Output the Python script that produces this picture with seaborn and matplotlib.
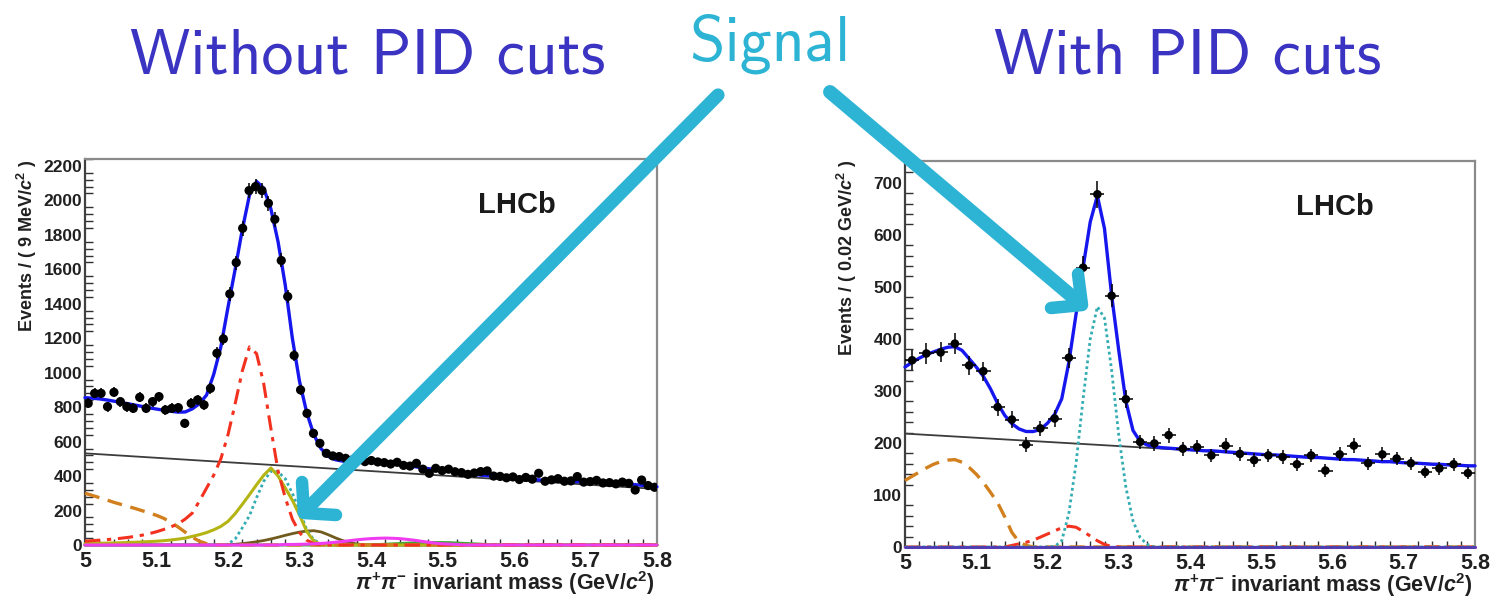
import numpy as np
import pandas as pd
import matplotlib
matplotlib.use("Agg")
import matplotlib.pyplot as plt
from matplotlib.ticker import MultipleLocator, FuncFormatter
import seaborn as sns

# ----------------------------------------------------------------------
# Binned data: pi+pi- invariant mass, 5.0 - 5.8 GeV/c^2
# ----------------------------------------------------------------------
# Without PID cuts: 9 MeV/c^2 bins
left_bin_width = 0.009
left_counts = [
    822, 880, 880, 803, 886, 832, 803, 793, 857, 793,
    832, 861, 784, 793, 797, 706, 822, 842, 813, 909,
    1113, 1196, 1457, 1639, 1838, 2057, 2080, 2057, 1983, 1890,
    1651, 1442, 1100, 900, 764, 648, 590, 532, 517, 513,
    503, 493, 493, 484, 490, 482, 478, 470, 480, 462,
    458, 474, 440, 416, 445, 432, 440, 425, 420, 410,
    418, 426, 430, 400, 398, 390, 395, 380, 392, 382,
    416, 370, 378, 385, 370, 372, 397, 365, 368, 375,
    360, 362, 355, 365, 358, 319, 377, 345, 335,
]

# With PID cuts: 20 MeV/c^2 bins
right_bin_width = 0.02
right_counts = [
    359, 372, 374, 391, 349, 338, 269, 245, 197, 228,
    247, 364, 537, 678, 483, 284, 202, 199, 215, 189,
    192, 176, 195, 179, 167, 176, 173, 159, 176, 147,
    178, 195, 161, 178, 170, 161, 144, 151, 159, 142,
]

# ----------------------------------------------------------------------
# Fit model curves, tabulated every 10 MeV/c^2 from their start mass
# ----------------------------------------------------------------------
curve_step = 0.01

# -- without PID cuts --
left_total = [
    855, 852, 848, 842, 835, 828, 820, 812, 804, 796,
    789, 782, 776, 771, 772, 790, 820, 870, 990, 1150,
    1380, 1600, 1830, 2030, 2110, 2070, 1950, 1760, 1510, 1200,
    950, 770, 640, 560, 515, 495, 487, 486, 487, 487,
    485, 480, 476, 471, 466, 461, 455, 449, 443, 438,
    434, 429, 423, 418, 412, 407, 403, 399, 395, 391,
    388, 385, 382, 379, 376, 374, 372, 370, 369, 368,
    367, 366, 364, 362, 360, 357, 354, 350, 346, 342,
    338,
]
left_comb_step = 0.1
left_comb = [532, 506, 480, 455, 429, 403, 377, 351, 325]
left_partreco_start = 5.00
left_partreco = [300, 288, 275, 262, 248, 236, 224, 212, 199, 186,
                 172, 155, 132, 105, 75, 45, 22, 8, 2, 0]
left_kpi_start = 5.00
left_kpi = [22, 25, 28, 31, 35, 39, 44, 50, 57, 66,
            77, 90, 105, 122, 150, 185, 255, 330, 405, 500,
            640, 820, 1010, 1150, 1110, 935, 675, 430, 275, 150,
            72, 28, 8, 2, 0]
left_kk_start = 5.00
left_kk = [8, 9, 10, 11, 12, 13, 15, 16, 18, 20,
           22, 25, 29, 34, 40, 50, 60, 72, 88, 108,
           137, 182, 236, 292, 350, 405, 447, 400, 332, 260,
           174, 80, 22, 5, 0]
left_signal_start = 5.20
left_signal = [5, 35, 100, 170, 275, 370, 428, 425, 385, 300, 200, 90, 30, 8, 0]
left_pik_start = 5.20
left_pik = [2, 4, 8, 13, 19, 26, 35, 45, 56, 66, 75, 81, 83, 76, 60,
            42, 26, 14, 6, 2, 0]
left_pk_start = 5.28
left_pk = [3, 3, 4, 5, 7, 9, 12, 16, 20, 25, 30, 34, 37, 39, 40,
           39, 37, 33, 28, 22, 16, 11, 7, 5, 3]
left_ppi_start = 5.40
left_ppi = [2, 3, 5, 7, 9, 11, 13, 14, 15, 15, 15, 14, 12, 10, 8, 6, 4, 2, 1, 0]

# -- with PID cuts --
right_total = [
    346, 355, 363, 370, 375, 380, 384, 385, 378, 362,
    346, 328, 304, 276, 253, 237, 227, 222, 222, 226,
    238, 255, 285, 355, 447, 538, 625, 675, 612, 484,
    378, 280, 224, 203, 196, 193, 191, 190, 189, 188,
    187, 186, 185, 185, 184, 183, 182, 181, 180, 179,
    178, 177, 177, 176, 175, 174, 173, 172, 172, 171,
    170, 169, 168, 168, 167, 166, 165, 164, 164, 163,
    162, 161, 161, 160, 159, 159, 158, 157, 157, 156,
    156,
]
right_comb_step = 0.1
right_comb = [218, 210, 202, 194, 186, 178, 170, 163, 156]
right_partreco_start = 5.00
right_partreco = [128, 136, 144, 152, 159, 164, 167, 168, 163, 153,
                  140, 124, 105, 85, 58, 28, 10, 3, 0]
right_kpi_start = 5.15
right_kpi = [3, 6, 9, 13, 19, 25, 31, 37, 40, 38, 30, 21, 12, 5, 1, 0]
right_signal_start = 5.21
right_signal = [1, 12, 65, 160, 285, 400, 462, 440, 340, 215, 115, 50, 18, 5, 0]
right_other_start = 5.00
right_other = [0]          # remaining components, no yield after PID

mass_lo, mass_hi = 5.0, 5.8
x_ticks_major, x_ticks_minor = 0.1, 0.02

# ----------------------------------------------------------------------
# Style
# ----------------------------------------------------------------------
sns.set_theme(style="white")
plt.rcParams["font.family"] = ["Liberation Sans", "DejaVu Sans"]
plt.rcParams["font.weight"] = "bold"
plt.rcParams["mathtext.fontset"] = "custom"
plt.rcParams["mathtext.rm"] = "Liberation Sans:bold"
plt.rcParams["mathtext.bf"] = "Liberation Sans:bold"
plt.rcParams["mathtext.sf"] = "Liberation Sans:bold"
plt.rcParams["mathtext.it"] = "Liberation Sans:bold:italic"

C_TOTAL = "#1616ee"
C_COMB = "#3c3c3c"
C_KPI = "#f2321e"
C_PART = "#d2801e"
C_SIG = "#34adb2"
C_KK = "#b4b414"
C_PIK = "#705a1e"
C_PK = "#f03cf0"
C_PPI = "#3caa32"
C_DATA = "black"
C_TITLE = "#3b34c2"
C_ARROW = "#2db4d4"

grid = np.round(mass_lo + curve_step * np.arange(int(round((mass_hi - mass_lo) / curve_step)) + 1), 2)


def component(start, values):
    """Place a tabulated component on the full mass grid (zero elsewhere)."""
    y = np.zeros(grid.size)
    i0 = int(round((start - mass_lo) / curve_step))
    y[i0:i0 + len(values)] = values
    return pd.DataFrame({"mass": grid, "events": y})


def line_frame(step, values):
    x = mass_lo + step * np.arange(len(values))
    return pd.DataFrame({"mass": x, "events": np.asarray(values, float)})


def bins_frame(width, counts):
    c = np.asarray(counts, float)
    centres = mass_lo + width * (np.arange(c.size) + 0.5)
    return pd.DataFrame({"mass": centres, "events": c, "err": np.sqrt(c)})


def draw(ax, df, color, lw, ls="-", z=3):
    sns.lineplot(data=df, x="mass", y="events", ax=ax, color=color,
                 linewidth=lw, linestyle=ls, estimator=None, sort=False,
                 zorder=z, clip_on=False)


DASHDOT = (0, (5, 2.2, 1.4, 2.2))
DASHED = (0, (4.5, 2.6))
DOTTED = (0, (1.0, 1.1))


def draw_points(ax, df, half_width, size):
    ax.errorbar(df["mass"], df["events"], yerr=df["err"], xerr=half_width,
                fmt="none", ecolor=C_DATA, elinewidth=1.1, capsize=0, zorder=6)
    sns.scatterplot(data=df, x="mass", y="events", ax=ax, color=C_DATA,
                    s=size, edgecolor="none", linewidth=0, zorder=7)


def style_axes(ax, ymax, ymajor, yminor):
    ax.set_xlim(mass_lo, mass_hi)
    ax.set_ylim(0, ymax)
    ax.xaxis.set_major_locator(MultipleLocator(x_ticks_major))
    ax.xaxis.set_minor_locator(MultipleLocator(x_ticks_minor))
    ax.yaxis.set_major_locator(MultipleLocator(ymajor))
    ax.yaxis.set_minor_locator(MultipleLocator(yminor))
    ax.xaxis.set_major_formatter(FuncFormatter(lambda v, p: f"{v:g}"))
    ax.yaxis.set_major_formatter(FuncFormatter(lambda v, p: f"{v:.0f}"))
    ax.tick_params(axis="y", which="major", direction="in", length=12,
                   width=1.1, labelsize=12.5, pad=2, color="#303030",
                   labelcolor="#202020")
    ax.tick_params(axis="y", which="minor", direction="in", length=6,
                   width=1.0, color="#303030", left=True)
    ax.tick_params(axis="x", which="major", direction="in", length=8,
                   width=1.1, labelsize=15.5, pad=4, color="#303030",
                   labelcolor="#202020")
    ax.tick_params(axis="x", which="minor", direction="in", length=4,
                   width=1.0, color="#303030", bottom=True)
    for side in ("top", "right"):
        ax.spines[side].set_color("#8a8a8a")
        ax.spines[side].set_linewidth(1.6)
    for side in ("left", "bottom"):
        ax.spines[side].set_color("#404040")
        ax.spines[side].set_linewidth(1.6)
    ax.set_xlabel("")
    ax.set_ylabel("")
    ax.text(0.997, -0.062, r"$\pi^{+}\pi^{-}$ invariant mass (GeV/$c^{2}$)",
            transform=ax.transAxes, ha="right", va="top", fontsize=15.5,
            fontweight="bold", color="#202020")
    ax.text(0.755, 0.88, "LHCb", transform=ax.transAxes, ha="center",
            va="center", fontsize=21, fontweight="bold", color="#1a1a1a")


W, H = 1494, 597
fig = plt.figure(figsize=(W / 100, H / 100), dpi=100)
fig.patch.set_facecolor("white")

ax_l = fig.add_axes([85 / W, 1 - 545 / H, 572 / W, 386 / H])
ax_r = fig.add_axes([905 / W, 1 - 547 / H, 570 / W, 386 / H])

# ---- left panel: without PID cuts ----
draw(ax_l, line_frame(left_comb_step, left_comb), C_COMB, 1.3, z=2)
draw(ax_l, component(left_ppi_start, left_ppi), C_PPI, 2.0)
draw(ax_l, component(left_pik_start, left_pik), C_PIK, 2.0)
draw(ax_l, component(left_signal_start, left_signal), C_SIG, 2.0, DOTTED)
draw(ax_l, component(left_kk_start, left_kk), C_KK, 2.2)
draw(ax_l, component(left_partreco_start, left_partreco), C_PART, 2.4, DASHED)
draw(ax_l, component(left_kpi_start, left_kpi), C_KPI, 2.2, DASHDOT)
draw(ax_l, component(left_pk_start, left_pk), C_PK, 2.2)
draw(ax_l, component(mass_lo, left_total), C_TOTAL, 2.4, z=5)
draw_points(ax_l, bins_frame(left_bin_width, left_counts), left_bin_width / 2, 44)
style_axes(ax_l, 2240, 200, 40)

# ---- right panel: with PID cuts ----
draw(ax_r, line_frame(right_comb_step, right_comb), C_COMB, 1.3, z=2)
draw(ax_r, component(right_other_start, right_other), C_PK, 2.2)
draw(ax_r, component(right_partreco_start, right_partreco), C_PART, 2.4, DASHED)
draw(ax_r, component(right_kpi_start, right_kpi), C_KPI, 2.2, DASHDOT)
draw(ax_r, component(right_signal_start, right_signal), C_SIG, 2.0, DOTTED)
draw(ax_r, component(right_other_start, right_other), "#4a3cb4", 2.0)
draw(ax_r, component(mass_lo, right_total), C_TOTAL, 2.4, z=5)
draw_points(ax_r, bins_frame(right_bin_width, right_counts), right_bin_width / 2, 38)
style_axes(ax_r, 742, 100, 20)

# y-axis titles, aligned with the top of each frame
fig.text(27 / W, 1 - 160 / H, r"Events / ( 9 MeV/$c^{2}$ )", rotation=90,
         ha="center", va="top", fontsize=13, fontweight="bold", color="#202020")
fig.text(847 / W, 1 - 160 / H, r"Events / ( 0.02 GeV/$c^{2}$ )", rotation=90,
         ha="center", va="top", fontsize=13, fontweight="bold", color="#202020")

# slide headings
fig.text(368 / W, 1 - 73 / H, "Without PID cuts", ha="center", va="baseline",
         fontsize=46, family="cmss10", color=C_TITLE)
fig.text(1188 / W, 1 - 73 / H, "With PID cuts", ha="center", va="baseline",
         fontsize=46, family="cmss10", color=C_TITLE)
fig.text(770 / W, 1 - 61 / H, "Signal", ha="center", va="baseline",
         fontsize=46, family="cmss10", color=C_ARROW)

# hand-drawn pointers from "Signal" to the signal peaks
ov = fig.add_axes([0, 0, 1, 1], zorder=10)
ov.set_xlim(0, W)
ov.set_ylim(H, 0)
ov.axis("off")
ov.patch.set_alpha(0)
kw = dict(color=C_ARROW, solid_capstyle="round", solid_joinstyle="round")
ov.plot([718, 304], [95, 512], lw=9.5, **kw)
ov.plot([302, 304, 336], [482, 513, 515], lw=9, **kw)
ov.plot([830, 1081], [92, 304], lw=10, **kw)
ov.plot([1078, 1082, 1051], [274, 305, 308], lw=9, **kw)

fig.savefig("out.png", dpi=100, facecolor="white")
